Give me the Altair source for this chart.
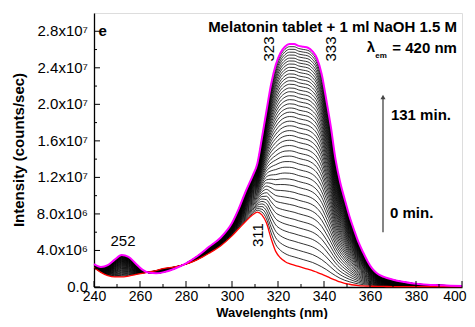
import altair as alt
import pandas as pd

# wavelength grid (nm)
wl = [240, 243, 246, 249, 252, 255, 258, 261, 264, 267, 270, 275, 280, 285, 290, 295,
      300, 303, 306, 309, 311, 313, 315, 317, 319, 321, 323, 325, 327, 329, 331, 333,
      335, 337, 339, 341, 343, 345, 347, 349, 351, 353, 355, 357, 359, 361, 363, 366,
      370, 375, 380, 385, 390, 395, 400]
# 0 min spectrum (red), x10^6 counts/sec
red = [2.1, 1.6, 1.25, 1.1, 1.1, 1.2, 1.35, 1.5, 1.65, 1.8, 2.0, 2.2, 2.5, 3.0, 3.7, 4.5,
       5.6, 6.4, 7.2, 7.9, 8.2, 7.9, 7.0, 5.3, 3.9, 3.2, 2.8, 2.55, 2.4, 2.25, 2.1, 1.95,
       1.8, 1.6, 1.4, 1.2, 0.95, 0.75, 0.55, 0.4, 0.3, 0.22, 0.16, 0.12, 0.1, 0.08, 0.07, 0.06,
       0.05, 0.05, 0.05, 0.05, 0.05, 0.05, 0.05]
# 131 min spectrum (magenta), x10^6 counts/sec
magenta = [2.5, 2.2, 2.4, 3.0, 3.5, 3.3, 2.6, 1.9, 1.55, 1.5, 1.6, 2.0, 2.6, 3.4, 4.4, 5.4,
           7.0, 8.6, 10.5, 12.2, 13.5, 16.3, 19.3, 22.2, 24.3, 25.6, 26.3, 26.6, 26.6, 26.4, 26.3, 26.2,
           25.8, 25.0, 23.3, 20.5, 17.5, 14.0, 11.5, 9.6, 7.8, 6.3, 4.9, 3.8, 2.8, 2.0, 1.5, 1.1,
           0.8, 0.55, 0.35, 0.25, 0.2, 0.15, 0.12]
# relative position of each intermediate spectrum between the 0 min and 131 min curves
levels = [0.037, 0.073, 0.108, 0.142, 0.175, 0.207, 0.239, 0.270, 0.300, 0.329, 0.358,
          0.385, 0.412, 0.439, 0.465, 0.490, 0.514, 0.538, 0.562, 0.584, 0.606, 0.628,
          0.649, 0.670, 0.690, 0.709, 0.728, 0.747, 0.765, 0.783, 0.800, 0.817, 0.833,
          0.849, 0.864, 0.880, 0.894, 0.909, 0.923, 0.936, 0.950, 0.963, 0.976, 0.988]

x_ticks_major = [240, 260, 280, 300, 320, 340, 360, 380, 400]
x_ticks_minor = [250, 270, 290, 310, 330, 350, 370, 390]
y_ticks_major = [0, 4e6, 8e6, 1.2e7, 1.6e7, 2.0e7, 2.4e7, 2.8e7]
y_tick_labels = ["0.0", "4.0x10\u2076", "8.0x10\u2076", "1.2x10\u2077", "1.6x10\u2077",
                 "2.0x10\u2077", "2.4x10\u2077", "2.8x10\u2077"]
y_ticks_minor = [2e6, 6e6, 1e7, 1.4e7, 1.8e7, 2.2e7, 2.6e7]

FONT = "Liberation Sans"
XD = [240, 400]
YD = [0, 3.0e7]
W, H = 368, 274

rows = []
for k, f in enumerate(levels):
    for w, r, m in zip(wl, red, magenta):
        rows.append({"wl": w, "I": (r + f * (m - r)) * 1e6, "k": k})
mid = pd.DataFrame(rows)
red_df = pd.DataFrame({"wl": wl, "I": [v * 1e6 for v in red]})
mag_df = pd.DataFrame({"wl": wl, "I": [v * 1e6 for v in magenta]})

xs = alt.Scale(domain=XD, nice=False, zero=False)
ys = alt.Scale(domain=YD, nice=False)

xax = alt.Axis(values=x_ticks_major, ticks=False, grid=False, labelFont=FONT, labelFontSize=14,
               labelColor="black", labelPadding=2, labelFlush=False, labelOverlap=False,
               labelBound=False, domainColor="black", domainWidth=1.3, title=None, format="d",
               labelAlign=alt.condition("datum.value == 400", alt.value("right"), alt.value("center")),
               labelOffset=alt.condition("datum.value == 400", alt.value(4), alt.value(0)))
yax = alt.Axis(values=y_ticks_major, ticks=False, grid=False, labels=False, title=None,
               domainColor="black", domainWidth=1.3)

base = alt.Chart(mid).mark_line(color="black", strokeWidth=0.8, interpolate="monotone").encode(
    x=alt.X("wl:Q", scale=xs, axis=xax),
    y=alt.Y("I:Q", scale=ys, axis=yax),
    detail="k:N",
)
red_line = alt.Chart(red_df).mark_line(color="#ff0000", strokeWidth=1.3, interpolate="monotone").encode(
    x=alt.X("wl:Q", scale=xs), y=alt.Y("I:Q", scale=ys))
mag_line = alt.Chart(mag_df).mark_line(color="#ff00ff", strokeWidth=2, interpolate="monotone").encode(
    x=alt.X("wl:Q", scale=xs), y=alt.Y("I:Q", scale=ys))

# inward ticks
xt_major = alt.Chart(pd.DataFrame({"v": x_ticks_major})).mark_rule(color="black", strokeWidth=1).encode(
    x=alt.X("v:Q", scale=xs), y=alt.value(H), y2=alt.value(H - 6))
xt_minor = alt.Chart(pd.DataFrame({"v": x_ticks_minor})).mark_rule(color="black", strokeWidth=1).encode(
    x=alt.X("v:Q", scale=xs), y=alt.value(H), y2=alt.value(H - 3))
yt_major = alt.Chart(pd.DataFrame({"v": y_ticks_major})).mark_rule(color="black", strokeWidth=1).encode(
    y=alt.Y("v:Q", scale=ys), x=alt.value(0), x2=alt.value(6))
yt_minor = alt.Chart(pd.DataFrame({"v": y_ticks_minor})).mark_rule(color="black", strokeWidth=1).encode(
    y=alt.Y("v:Q", scale=ys), x=alt.value(0), x2=alt.value(3))

# y tick labels and axis titles
y_labels = alt.Chart(pd.DataFrame({"v": y_ticks_major, "t": y_tick_labels})).mark_text(
    font=FONT, fontSize=15, color="black", align="right", baseline="middle").encode(
    y=alt.Y("v:Q", scale=ys), x=alt.value(-6), text="t:N")
y_title = alt.Chart(pd.DataFrame({"t": ["Intensity (counts/sec)"]})).mark_text(
    font=FONT, fontSize=15, fontWeight="bold", color="black", angle=270,
    align="center", baseline="middle").encode(
    x=alt.value(-75), y=alt.value(H / 2), text="t:N")
x_title = alt.Chart(pd.DataFrame({"t": ["Wavelenghts (nm)"]})).mark_text(
    font=FONT, fontSize=13, fontWeight="bold", color="black",
    align="center", baseline="middle").encode(
    x=alt.value(W / 2 - 6), y=alt.value(H + 26), text="t:N")

def txt(df, **kw):
    return alt.Chart(pd.DataFrame(df)).mark_text(font=FONT, color="black", **kw).encode(
        x=alt.X("x:Q", scale=xs), y=alt.Y("y:Q", scale=ys), text="t:N")

t_bold_left = txt({"x": [242.0, 369.1, 368.7], "y": [2.80e7, 1.883e7, 8.1e6],
                   "t": ["e", "131 min.", "0 min."]},
                  fontSize=15, fontWeight="bold", align="left", baseline="middle")
t_bold_right = txt({"x": [397.8, 397.8], "y": [2.85e7, 2.617e7],
                    "t": ["Melatonin tablet + 1 ml NaOH 1.5 M", "= 420 nm"]},
                   fontSize=15, fontWeight="bold", align="right", baseline="middle")
t_lambda = txt({"x": [360.4], "y": [2.63e7], "t": ["\u03bb"]},
               fontSize=15, fontWeight="bold", align="center", baseline="middle")
t_em = txt({"x": [364.8], "y": [2.53e7], "t": ["em"]},
           fontSize=8, fontWeight="bold", align="center", baseline="middle")
t_rot = txt({"x": [316.1, 343.0, 311.3], "y": [2.606e7, 2.606e7, 5.69e6], "t": ["323", "333", "311"]},
            fontSize=15, angle=270, align="center", baseline="middle")
t_252 = txt({"x": [252.6], "y": [5.04e6], "t": ["252"]},
            fontSize=15, align="center", baseline="middle")

arrow = alt.Chart(pd.DataFrame({"x": [365.65], "y": [6.0e6], "y2": [2.06e7]})).mark_rule(
    color="#444444", strokeWidth=1.3).encode(
    x=alt.X("x:Q", scale=xs), y=alt.Y("y:Q", scale=ys), y2="y2:Q")
head = alt.Chart(pd.DataFrame({"x": [365.65], "y": [2.08e7]})).mark_point(
    shape="triangle-up", filled=True, color="#444444", size=25, opacity=1).encode(
    x=alt.X("x:Q", scale=xs), y=alt.Y("y:Q", scale=ys))

chart = alt.layer(
    base, red_line, mag_line, xt_major, xt_minor, yt_major, yt_minor, y_labels, y_title, x_title,
    t_bold_left, t_bold_right, t_lambda, t_em, t_rot, t_252, arrow, head
).properties(
    width=W, height=H,
    autosize=alt.AutoSizeParams(type="none"),
    padding={"left": 86, "top": 5, "right": 5, "bottom": 32},
).configure_view(stroke="#7a7a7a", strokeWidth=1.3).configure(background="white")

chart.save("out.html", embed_options={"renderer": "svg", "actions": False})
